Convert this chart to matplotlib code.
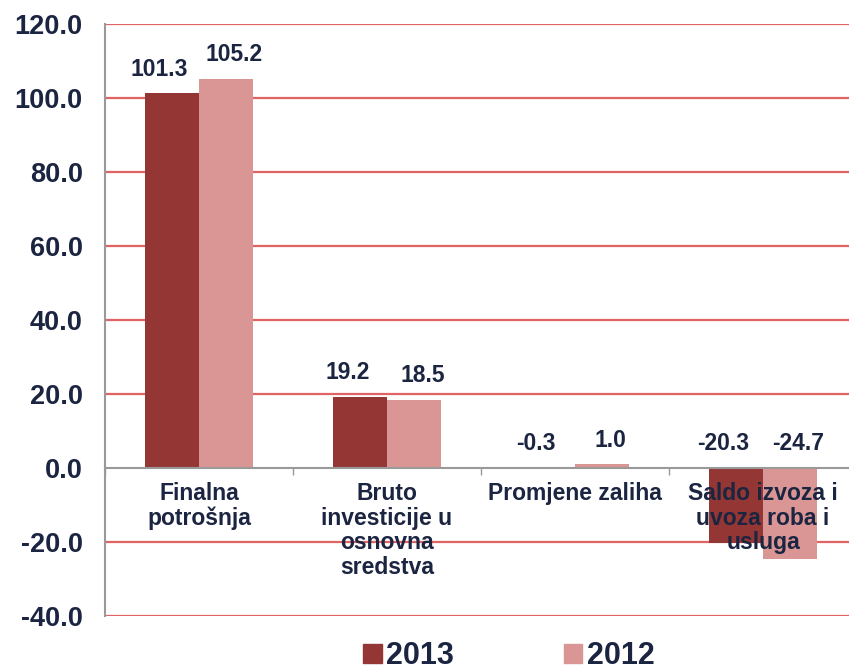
import numpy as np
import matplotlib.pyplot as plt
from matplotlib.patches import Patch

plt.rcParams['font.family'] = ['Liberation Sans', 'DejaVu Sans']

categories = ['Finalna\npotrošnja', 'Bruto\ninvesticije u\nosnovna\nsredstva',
              'Promjene zaliha', 'Saldo izvoza i\nuvoza roba i\nusluga']
v2013 = [101.3, 19.2, -0.3, -20.3]
v2012 = [105.2, 18.5, 1.0, -24.7]
series = ['2013', '2012']
colors = ['#943634', '#D99694']
yticks = [-40, -20, 0, 20, 40, 60, 80, 100, 120]

txt = '#1B2440'


def main():
    fig = plt.figure(figsize=(8.49, 6.72), dpi=100)
    ax = fig.add_axes([105 / 849, 56 / 672, 752 / 849, 592 / 672])

    x = np.arange(len(categories))
    w = 0.287
    bars1 = ax.bar(x - w / 2, v2013, w, color=colors[0], zorder=3)
    bars2 = ax.bar(x + w / 2, v2012, w, color=colors[1], zorder=3)

    # value labels, nudged apart like the original
    for bars, vals, dx in [(bars1, v2013, -9), (bars2, v2012, 6)]:
        for b, v in zip(bars, vals):
            y = max(v, 0)
            ax.annotate('%.1f' % v, (b.get_x() + b.get_width() / 2, y),
                        xytext=(dx, 9), textcoords='offset points',
                        ha='center', va='bottom', fontsize=16.5,
                        fontweight='bold', color=txt, zorder=5)

    ax.spines['bottom'].set_position(('data', 0))
    ax.spines['bottom'].set_color('#999999')
    ax.spines['bottom'].set_linewidth(1.5)
    ax.spines['bottom'].set_zorder(4)
    ax.spines['left'].set_color('#999999')
    ax.spines['left'].set_linewidth(1.5)
    ax.spines['top'].set_visible(False)
    ax.spines['right'].set_visible(False)

    ax.set_xlim(-0.5, len(categories) - 0.5)
    ax.set_ylim(-40, 120)
    ax.set_yticks(yticks)
    ax.set_yticklabels(['%.1f' % t for t in yticks],
                       fontsize=19.5, fontweight='bold', color=txt)

    ax.set_xticks(x)
    ax.set_xticklabels(categories, fontsize=16.5, fontweight='bold',
                       color=txt, linespacing=1.1)
    ax.set_xticks(np.arange(-0.5, len(categories)), minor=True)
    ax.tick_params(axis='x', which='major', length=0, pad=10)
    ax.tick_params(axis='x', which='minor', length=5, width=1, color='#999999')
    ax.tick_params(axis='y', length=0, pad=16)
    ax.xaxis.set_zorder(6)

    for t in yticks:
        if t != 0:
            ax.axhline(t, color='#E06464', lw=1.6, zorder=1)

    handles = [Patch(color=c) for c in colors]
    fig.legend(handles, series, loc='lower center',
               bbox_to_anchor=(509 / 849, -0.04), ncol=2, frameon=False,
               prop={'size': 22, 'weight': 'bold'}, labelcolor=txt,
               handlelength=0.6, handleheight=0.6, handletextpad=0.15,
               columnspacing=3.6)

    plt.savefig('out.png', dpi=100)


if __name__ == '__main__':
    main()
